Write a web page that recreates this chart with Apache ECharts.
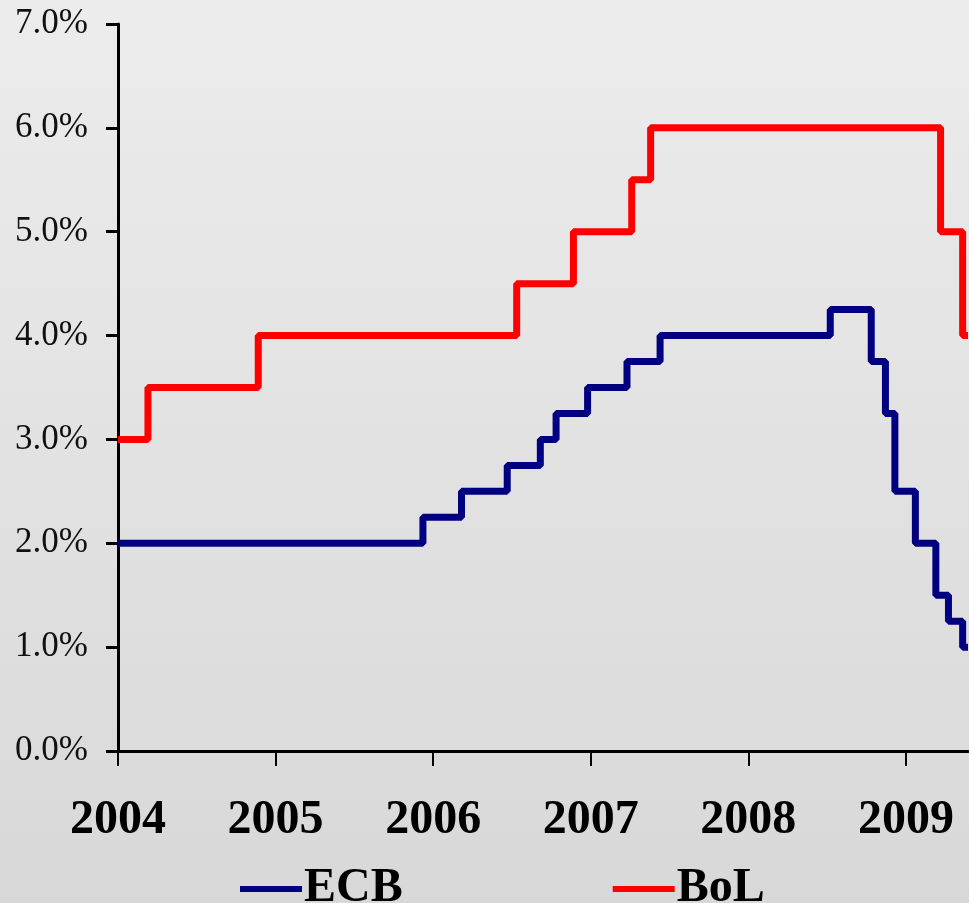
<!DOCTYPE html>
<html>
<head>
<meta charset="utf-8">
<script src="https://cdn.jsdelivr.net/npm/echarts@6/dist/echarts.min.js"></script>
<style>
  html, body { margin: 0; padding: 0; }
  #chart { width: 969px; height: 903px; }
</style>
</head>
<body>
<div id="chart"></div>
<script>
// Policy rates, dates as decimal years (each point = date a new rate took effect)
const ecbDates = [2004.0, 2005.935, 2006.18, 2006.47, 2006.68, 2006.78, 2006.98, 2007.23, 2007.44, 2008.52, 2008.78, 2008.87, 2008.93, 2009.06, 2009.19, 2009.27, 2009.36, 2009.394];
const ecbRates = [2.0, 2.25, 2.5, 2.75, 3.0, 3.25, 3.5, 3.75, 4.0, 4.25, 3.75, 3.25, 2.5, 2.0, 1.5, 1.25, 1.0, 1.0];

const bolDates = [2004.0, 2004.19, 2004.89, 2006.53, 2006.89, 2007.26, 2007.38, 2009.22, 2009.36, 2009.394];
const bolRates = [3.0, 3.5, 4.0, 4.5, 5.0, 5.5, 6.0, 5.0, 4.0, 4.0];

const yearTicks = [2004, 2005, 2006, 2007, 2008, 2009];
const rateTicks = [0, 1, 2, 3, 4, 5, 6, 7];
const xStart = 2004;
const xEnd = 2009.394;

const pairs = (xs, ys) => xs.map((x, i) => [x, ys[i]]);

const chart = echarts.init(document.getElementById('chart'));
chart.setOption({
  animation: false,
  backgroundColor: {
    type: 'linear', x: 0, y: 0, x2: 0, y2: 1,
    colorStops: [{ offset: 0, color: '#ececec' }, { offset: 1, color: '#d8d8d8' }]
  },
  grid: { left: 118, right: 1, top: 24, bottom: 152 },
  xAxis: {
    type: 'value',
    min: xStart,
    max: xEnd,
    interval: 1,
    splitLine: { show: false },
    axisLine: { lineStyle: { color: '#000', width: 3 } },
    axisTick: { length: 15, lineStyle: { color: '#000', width: 2 }, customValues: yearTicks },
    axisLabel: {
      customValues: yearTicks,
      formatter: v => String(Math.round(v)),
      margin: 46,
      color: '#000',
      fontFamily: 'Liberation Serif',
      fontWeight: 'bold',
      fontSize: 48
    }
  },
  yAxis: {
    type: 'value',
    min: 0,
    max: 7,
    interval: 1,
    splitLine: { show: false },
    axisLine: { show: true, lineStyle: { color: '#000', width: 3 } },
    axisTick: { show: true, length: 12, lineStyle: { color: '#000', width: 3 }, customValues: rateTicks },
    axisLabel: {
      customValues: rateTicks,
      formatter: v => v.toFixed(1) + '%',
      margin: 30,
      padding: [10, 0, 0, 0],
      color: '#111',
      fontFamily: 'Liberation Serif',
      fontSize: 35
    }
  },
  legend: {
    left: 235,
    top: 860,
    icon: 'rect',
    itemWidth: 62,
    itemHeight: 6,
    itemGap: 210,
    textStyle: { color: '#000', fontFamily: 'Liberation Serif', fontWeight: 'bold', fontSize: 48, padding: [0, 0, 0, -3] },
    data: ['ECB', 'BoL']
  },
  series: [
    {
      name: 'ECB',
      type: 'line',
      step: 'end',
      showSymbol: false,
      color: '#000080',
      lineStyle: { width: 7, color: '#000080' },
      data: pairs(ecbDates, ecbRates)
    },
    {
      name: 'BoL',
      type: 'line',
      step: 'end',
      showSymbol: false,
      color: '#ff0000',
      lineStyle: { width: 7, color: '#ff0000' },
      data: pairs(bolDates, bolRates)
    }
  ]
});
</script>
</body>
</html>
